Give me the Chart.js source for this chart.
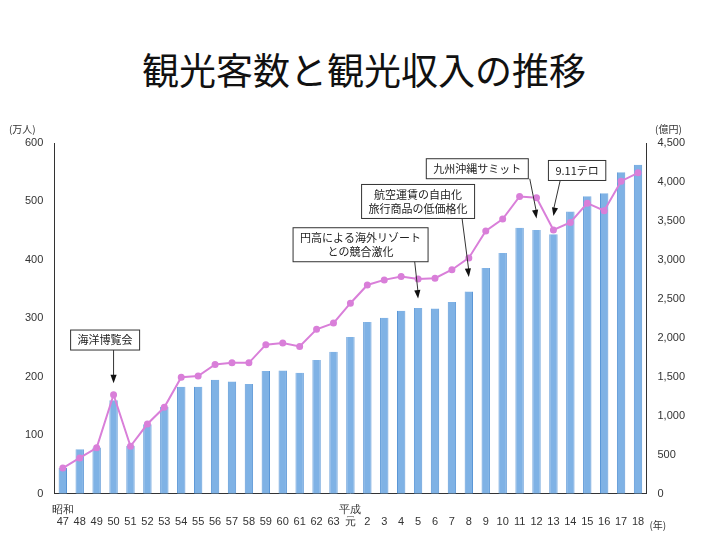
<!DOCTYPE html>
<html><head><meta charset="utf-8">
<script src="https://cdn.jsdelivr.net/npm/chart.js@4/dist/chart.umd.min.js"></script>
<style>
body{margin:0;background:#fff;font-family:"Noto Sans CJK JP",sans-serif}
h1{margin:0;position:absolute;top:42px;width:728px;text-align:center;font-weight:400;font-size:37px;font-family:"Noto Sans CJK JP";color:#111}
#wrap{position:absolute;left:0;top:118px;width:728px;height:420px}
</style></head><body>
<h1>観光客数と観光収入の推移</h1>
<div id="wrap"><canvas id="c"></canvas></div>
<script>
// 年次ラベル(上段・下段)
const years = [['昭和','47'],['','48'],['','49'],['','50'],['','51'],['','52'],['','53'],['','54'],['','55'],['','56'],
  ['','57'],['','58'],['','59'],['','60'],['','61'],['','62'],['','63'],['平成','元'],
  ['','2'],['','3'],['','4'],['','5'],['','6'],['','7'],['','8'],['','9'],['','10'],['','11'],['','12'],['','13'],
  ['','14'],['','15'],['','16'],['','17'],['','18']];
// 観光客数(万人)
const visitors = [44,76,79,160,82,119,149,183,183,195,192,188,210,211,207,229,243,268,
  294,301,313,318,317,328,346,386,412,455,451,444,483,509,514,550,563];
// 観光収入(億円)
const revenue = [330,460,590,1270,610,895,1110,1495,1510,1660,1680,1680,1913,1935,1890,2110,2190,2445,
  2679,2744,2787,2757,2765,2874,3026,3372,3524,3814,3797,3385,3480,3728,3632,4010,4118];
// 注記(位置は目盛り基準)
const notes = [
  {lines:['海洋博覧会'], bx:2.5, by:263, from:3, tip:3, tipV:189},
  {lines:['円高による海外リゾート','との競合激化'], bx:17.6, by:426, from:20.8, tip:21, tipV:334},
  {lines:['航空運賃の自由化','旅行商品の低価格化'], bx:21, by:500, from:23.6, tip:24, tipV:371},
  {lines:['九州沖縄サミット'], bx:24.5, by:556, from:27.6, tip:28, tipV:471},
  {lines:['9.11テロ'], bx:30.4, by:553, from:29.4, tip:29, tipV:475}
];

const notePlugin = {
  id:'notes',
  afterDatasetsDraw(chart){
    const ctx = chart.ctx, x = chart.scales.x, y = chart.scales.y;
    const step = x.getPixelForValue(1)-x.getPixelForValue(0);
    ctx.save();
    ctx.font = '11px "Noto Sans CJK JP"';
    ctx.textAlign = 'center'; ctx.textBaseline = 'middle';
    notes.forEach(n => {
      const px = x.getPixelForValue(0) + n.bx*step;
      const py = y.getPixelForValue(n.by);
      const w = Math.max(...n.lines.map(l => ctx.measureText(l).width)) + 14;
      const h = n.lines.length*14 + 6;
      ctx.fillStyle = '#fff'; ctx.strokeStyle = '#333'; ctx.lineWidth = 1;
      ctx.fillRect(px-w/2, py-h/2, w, h); ctx.strokeRect(px-w/2, py-h/2, w, h);
      ctx.fillStyle = '#222';
      n.lines.forEach((l,k) => ctx.fillText(l, px, py-h/2+10+k*14));
      const sx = x.getPixelForValue(0) + n.from*step, sy = py+h/2;
      const tx = x.getPixelForValue(n.tip), ty = y.getPixelForValue(n.tipV);
      ctx.beginPath(); ctx.moveTo(sx, sy); ctx.lineTo(tx, ty-6); ctx.stroke();
      const a = Math.atan2(ty-sy, tx-sx);
      ctx.beginPath(); ctx.moveTo(tx, ty);
      ctx.lineTo(tx-9*Math.cos(a-0.35), ty-9*Math.sin(a-0.35));
      ctx.lineTo(tx-9*Math.cos(a+0.35), ty-9*Math.sin(a+0.35));
      ctx.closePath(); ctx.fillStyle = '#111'; ctx.fill();
    });
    // 単位
    ctx.font = '10px "Noto Sans CJK JP"'; ctx.fillStyle = '#333';
    ctx.fillText('(万人)', chart.chartArea.left-32, chart.chartArea.top-14);
    ctx.fillText('(億円)', chart.chartArea.right+22, chart.chartArea.top-14);
    ctx.textAlign = 'left';
    ctx.fillText('(年)', chart.chartArea.right+3, chart.chartArea.bottom+31);
    ctx.restore();
  }
};

new Chart(document.getElementById('c'), {
  data:{
    labels: years,
    datasets:[
      {type:'line', label:'観光収入', data:revenue, yAxisID:'y2', borderColor:'#d97fd9', backgroundColor:'#d97fd9',
        borderWidth:2, pointRadius:2.5, tension:0},
      {type:'bar', label:'観光客数', data:visitors, yAxisID:'y', backgroundColor:'#7fb2e5', borderColor:'#5a96d6',
        borderWidth:{left:1,right:1}, categoryPercentage:0.9, barPercentage:0.55}
    ]
  },
  options:{
    responsive:true, maintainAspectRatio:false, animation:false,
    layout:{padding:{left:22,right:40,top:25,bottom:8}},
    plugins:{legend:{display:false}, tooltip:{enabled:false}},
    scales:{
      x:{grid:{display:false}, border:{color:'#333'},
        ticks:{color:'#333', font:{size:11, lineHeight:1.1}, maxRotation:0, autoSkip:false, padding:2}},
      y:{min:0, max:600, ticks:{stepSize:100, color:'#333', font:{size:11}},
        grid:{display:false}, border:{color:'#333'}},
      y2:{position:'right', min:0, max:4500,
        ticks:{stepSize:500, color:'#333', font:{size:11}, callback:v => v.toLocaleString('en-US')},
        grid:{display:false}, border:{color:'#333'}}
    }
  },
  plugins:[notePlugin]
});
</script>
</body></html>
